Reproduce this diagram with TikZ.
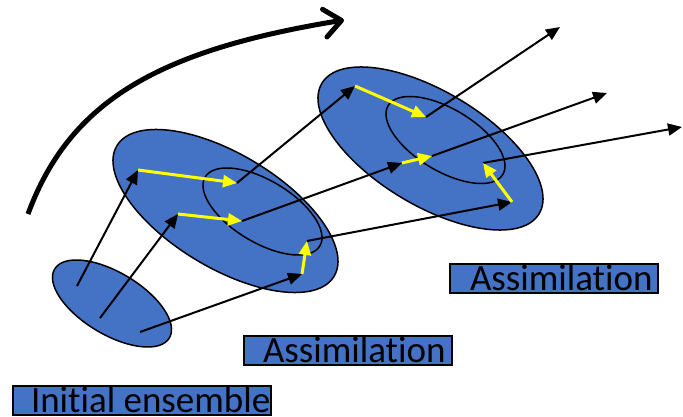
\documentclass[tikz,border=0pt]{standalone}
\usepackage{fontspec}
\setmainfont{Carlito}[Ligatures={NoCommon,NoContextual}]
\usetikzlibrary{arrows.meta}
\definecolor{blu}{HTML}{4472C4}
\definecolor{yel}{HTML}{FFFF00}
\begin{document}
\begin{tikzpicture}[x=1pt,y=-1pt,
  ens/.style={fill=blu,draw=black,line width=1.5pt},
  core/.style={draw=black,line width=1.5pt},
  blk/.style={draw=black,line width=2pt,-{Triangle[length=14pt,width=12pt]}},
  ylw/.style={draw=yel,line width=3pt,-{Triangle[length=14pt,width=12pt]}},
  lbl/.style={fill=blu,draw=black,line width=2pt,inner xsep=0pt,inner ysep=0pt,
    anchor=base west,font=\fontsize{37}{40}\selectfont}
]
\useasboundingbox (0,0) rectangle (683,417);

% ensembles
\draw[ens,rotate around={-31:(112,303.5)}] (112,303.5) ellipse [x radius=66.9,y radius=31];
\draw[ens,rotate around={-31:(225.5,211)}] (225.5,211) ellipse [x radius=126.7,y radius=57];
\draw[ens,rotate around={-31:(430.5,148.5)}] (430.5,148.5) ellipse [x radius=126.7,y radius=57];
\draw[core,rotate around={-31:(262.5,211.5)}] (262.5,211.5) ellipse [x radius=66.9,y radius=31];
\draw[core,rotate around={-31:(445.5,140)}] (445.5,140) ellipse [x radius=66.9,y radius=31];

% members
\coordinate (i1) at (77,286);
\coordinate (i2) at (100,318);
\coordinate (i3) at (140,332);
\coordinate (m1) at (138,170);
\coordinate (m1c) at (237,183);
\coordinate (m2) at (178,214);
\coordinate (m2c) at (242,221);
\coordinate (m3) at (302,274);
\coordinate (m3c) at (307,241);
\coordinate (r1) at (355,86);
\coordinate (r1c) at (426,117);
\coordinate (r2) at (402,163);
\coordinate (r2c) at (432,156);
\coordinate (r3) at (512,202);
\coordinate (r3c) at (483,163);
\coordinate (o1) at (560,27);
\coordinate (o2) at (607,93);
\coordinate (o3) at (682,127);

\draw[blk] (i1) -- (m1);
\draw[blk] (i2) -- (m2);
\draw[blk] (i3) -- (m3);
\draw[blk] (m1c) -- (r1);
\draw[blk] (m2c) -- (r2);
\draw[blk] (m3c) -- (r3);
\draw[blk] (r1c) -- (o1);
\draw[blk] (r2c) -- (o2);
\draw[blk] (r3c) -- (o3);

\draw[ylw] (m1) -- (m1c);
\draw[ylw] (m2) -- (m2c);
\draw[ylw] (m3) -- (m3c);
\draw[ylw] (r1) -- (r1c);
\draw[ylw] (r2) -- (r2c);
\draw[ylw] (r3) -- (r3c);

% time arrow
\coordinate (t0) at (28,214);
\coordinate (t1) at (344,20);
\draw[line width=5pt,-{Straight Barb[length=17pt,width=28pt,round]}] (t0) .. controls (70,100) and (160,50) .. (t1);

% labels
\node[lbl,text depth=3pt] (init) at (12,412) {\hspace*{18pt}Initial ensemble\hspace*{1pt}};
\node[lbl,text depth=3pt] (as1) at (243,362) {\hspace*{19pt}Assimilation\hspace*{6pt}};
\node[lbl,text depth=3pt] (as2) at (449,290) {\hspace*{20pt}Assimilation\hspace*{5pt}};
\end{tikzpicture}
\end{document}
